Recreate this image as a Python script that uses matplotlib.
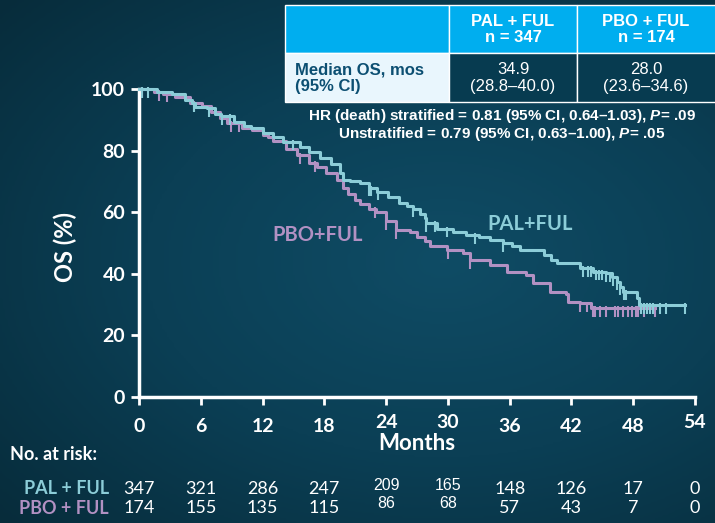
import numpy as np
import matplotlib.pyplot as plt
from matplotlib.patches import Rectangle
from matplotlib.colors import LinearSegmentedColormap
from matplotlib import transforms

plt.rcParams['font.family'] = ['Lato', 'DejaVu Sans']
plt.rcParams['mathtext.fontset'] = 'custom'
plt.rcParams['mathtext.rm'] = 'Liberation Sans:bold'
plt.rcParams['mathtext.it'] = 'Liberation Sans:italic:bold'

# ---- data ----
# PAL + FUL: step times (months) and OS (%) after each step
pal_t = [0, 1.7, 3.2, 4.5, 5.1, 5.4, 6.6, 7.4, 8.0, 9.2, 10.2, 10.9, 12.0, 13.0,
         14.0, 15.6, 16.5, 17.6, 18.6, 19.5, 19.8, 20.5, 21.5, 22.3, 23.1, 24.2,
         25.3, 26.0, 26.6, 27.3, 27.8, 27.9, 28.9, 30.5, 31.8, 33.0, 34.1, 35.4,
         36.2, 37.0, 39.3, 40.0, 40.6, 42.8, 44.1, 45.4, 45.9, 46.4, 46.7, 47.0,
         48.4, 48.6]
pal_s = [100, 99, 98.3, 96.5, 95.3, 94, 93.7, 92, 91.2, 89.2, 88, 87.2, 85.6, 84.5,
         82.9, 81.3, 79.5, 77.6, 75.5, 72.6, 70.6, 70, 69.4, 68, 66.7, 65,
         63, 62, 61.1, 59.5, 58, 56.4, 54.7, 53.7, 52.6, 51.8, 51, 49.9,
         49, 47.7, 46.1, 44.5, 43.4, 41.8, 40.7, 40.1, 38.8, 37.4, 35.8, 34.2,
         32, 29.9]
pal_end = 53.0
pal_cens = [0.3, 0.9, 5.3, 6.8, 8.1, 8.8, 15.0, 22.3, 22.5, 23.2, 26.6, 27.9, 28.7,
            29.9, 32.6, 35.4, 43.1, 43.6, 43.9, 44.4, 44.7, 45.0, 45.4, 45.7, 46.0,
            46.4, 46.7, 47.1, 47.3, 48.8, 49.0, 49.3, 49.6, 49.9, 50.6, 51.2, 53.0]

# PBO + FUL
pbo_t = [0, 1.5, 2.3, 3.5, 5.0, 6.1, 7.0, 7.9, 8.5, 10.0, 11.0, 12.0, 12.5, 13.0,
         14.3, 15.3, 16.5, 17.3, 18.2, 19.2, 19.8, 20.3, 21.0, 21.5, 22.3, 23.0,
         24.0, 25.0, 26.3, 27.0, 27.8, 28.3, 29.9, 31.5, 32.1, 34.1, 35.7, 37.6,
         38.3, 39.9, 41.5, 41.7, 42.8, 43.9]
pbo_s = [100, 99, 98.5, 97.5, 95.5, 94.5, 92.5, 90.5, 89, 87.4, 86.7, 85.2, 84.5, 83,
         80.6, 78.5, 76, 74.8, 72.8, 70.5, 68, 66, 64, 62.8, 61, 60,
         57, 54.2, 53.7, 52, 50.5, 49, 47.7, 46.6, 44.5, 42.9, 40.7, 39.6,
         36.9, 34.2, 33.6, 31, 30.4, 28.8]
pbo_end = 50.1
pbo_cens = [0.3, 1.9, 2.7, 5.3, 8.9, 9.7, 15.6, 17.1, 22.9, 24.0, 25.0, 30.0, 32.1,
            42.8, 43.5, 44.1, 44.3, 44.8, 45.4, 46.2, 46.5, 47.0, 47.5, 47.9, 48.3,
            48.5, 49.0, 50.1]

month_ticks = [0, 6, 12, 18, 24, 30, 36, 42, 48, 54]
raised_ticks = [24, 30, 54]
raised_risk = [24, 30]
os_ticks = [0, 20, 40, 60, 80, 100]
risk_pal = [347, 321, 286, 247, 209, 165, 148, 126, 17, 0]
risk_pbo = [174, 155, 135, 115, 86, 68, 57, 43, 7, 0]

arms = ['PAL + FUL', 'PBO + FUL']
arm_n = [347, 174]
median_os = ['34.9', '28.0']
median_ci = ['(28.8\u201340.0)', '(23.6\u201334.6)']

CYAN = '#8ccdd8'
PURPLE = '#b291c3'
W, H = 715, 523

fig = plt.figure(figsize=(W / 100, H / 100), dpi=100)


def px(x, y):
    return x / W, 1 - y / H


# background gradient
bg = fig.add_axes([0, 0, 1, 1], zorder=-10)
yy, xx = np.mgrid[0:1:200j, 0:1:300j]
r = np.sqrt((xx - 0.62) ** 2 + ((yy - 0.5) / 0.9) ** 2)
cmap = LinearSegmentedColormap.from_list('bg', ['#0f4c65', '#0b3f55', '#072c3b'])
bg.imshow(r, cmap=cmap, aspect='auto', extent=[0, 1, 0, 1], origin='upper')
bg.axis('off')

ax = fig.add_axes([139 / W, 1 - 397 / H, 556 / W, 308 / H])
ax.set_facecolor('none')
ax.set_xlim(0, 54)
ax.set_ylim(0, 100)
for side in ['top', 'right']:
    ax.spines[side].set_visible(False)
for side in ['left', 'bottom']:
    ax.spines[side].set_color('white')
    ax.spines[side].set_linewidth(2.5)


def km(t, s, end, cens, color):
    ax.step(list(t) + [end], list(s) + [s[-1]], where='post', color=color,
            lw=2.2, clip_on=False, zorder=3)
    idx = np.searchsorted(t, cens, side='right') - 1
    sv = np.array(s)[idx]
    ax.vlines(cens, sv - 2.8, sv + 0.6, color=color, lw=1.5, zorder=3, clip_on=False)


km(pbo_t, pbo_s, pbo_end, pbo_cens, PURPLE)
km(pal_t, pal_s, pal_end, pal_cens, CYAN)

ax.set_xticks(month_ticks)
ax.set_xticklabels([])
ax.set_yticks(os_ticks)
ax.tick_params(colors='white', length=6, width=2, direction='out')
ax.tick_params(axis='y', labelsize=14, pad=4)
for lab in ax.get_yticklabels():
    lab.set_fontweight('bold')
for m in month_ticks:
    dy = -18 if m in raised_ticks else -21
    ax.annotate(str(m), xy=(m, 0), xycoords=('data', 'axes fraction'),
                xytext=(0, dy), textcoords='offset points', ha='center', va='center',
                color='white', fontsize=14, fontweight='bold')

fig.text(*px(417, 443), 'Months', ha='center', va='center', color='white',
         fontsize=16, fontweight='bold')
fig.text(*px(65, 247), 'OS (%)', ha='center', va='center', color='white',
         fontsize=17, fontweight='bold', rotation=90)

ax.text(*(np.array([530 - 139, 397 - 224]) / [556 / 54, 308 / 100]), 'PAL+FUL',
        color=CYAN, fontsize=14.5, fontweight='bold', ha='center', va='center')
ax.text(*(np.array([318 - 139, 397 - 235]) / [556 / 54, 308 / 100]), 'PBO+FUL',
        color=PURPLE, fontsize=14.5, fontweight='bold', ha='center', va='center')

# number at risk
fig.text(*px(10, 455), 'No. at risk:', ha='left', va='center', color='white',
         fontsize=13, fontweight='bold')
tr = transforms.blended_transform_factory(ax.transData, fig.transFigure)
for name, counts, col, y in zip(arms, [risk_pal, risk_pbo], [CYAN, PURPLE], [489, 508]):
    fig.text(*px(109, y), name, ha='right', va='center', color=col,
             fontsize=13, fontweight='bold')
    for m, c in zip(month_ticks, counts):
        if m in raised_risk:
            ax.text(m, 1 - (y - 4) / H, str(c), transform=tr, ha='center', va='center',
                    color='white', fontsize=11.5, family='Liberation Sans', clip_on=False)
        else:
            ax.text(m, 1 - y / H, str(c), transform=tr, ha='center', va='center',
                    color='white', fontsize=13, clip_on=False)


# median OS table
def rect(x0, y0, x1, y1, fc):
    fig.patches.append(Rectangle(px(x0, y1), (x1 - x0) / W, (y1 - y0) / H, fc=fc,
                                 ec='white', lw=1, transform=fig.transFigure, zorder=1))


rect(285, 5, 449, 52.7, '#00aeef')
rect(449, 5, 577, 52.7, '#00aeef')
rect(577, 5, 716, 52.7, '#00aeef')
rect(285, 52.7, 449, 101.7, '#e9f6fd')
rect(449, 52.7, 577, 101.7, '#073b50')
rect(577, 52.7, 716, 101.7, '#073b50')

for cx, name, n, med, ci in zip([513, 646], arms, arm_n, median_os, median_ci):
    fig.text(*px(cx, 29.5), f'{name}\nn = {n}', ha='center', va='center', color='white',
             fontsize=12, fontweight='bold', family='Liberation Sans', linespacing=1.15)
    fig.text(*px(cx, 78.3), f'{med}\n{ci}', ha='center', va='center', color='white',
             fontsize=12, family='Liberation Sans', linespacing=1.15)
fig.text(*px(295, 78.3), 'Median OS, mos\n(95% CI)', ha='left', va='center',
         color='#0c4f72', fontsize=12, fontweight='bold', family='Liberation Sans',
         linespacing=1.15)

fig.text(*px(502, 116), 'HR (death) stratified = 0.81 (95% CI, 0.64\u20131.03), $P$= .09',
         ha='center', va='center', color='white', fontsize=11, fontweight='bold',
         family='Liberation Sans')
fig.text(*px(502, 134), 'Unstratified = 0.79 (95% CI, 0.63\u20131.00), $P$= .05',
         ha='center', va='center', color='white', fontsize=11, fontweight='bold',
         family='Liberation Sans')

fig.savefig('out.png', dpi=100)
